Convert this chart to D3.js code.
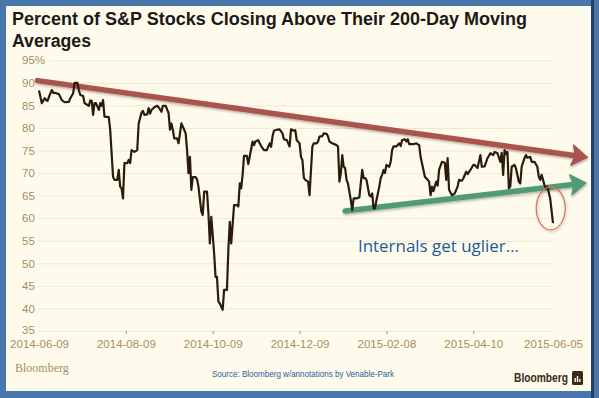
<!DOCTYPE html>
<html>
<head>
<meta charset="utf-8">
<script src="https://cdn.jsdelivr.net/npm/d3@7"></script>
<style>
  html, body { margin: 0; padding: 0; background: #4977ab; }
  #canvas { width: 599px; height: 398px; }
  text { font-family: "Liberation Sans", Arial, sans-serif; }
</style>
</head>
<body>
<div id="canvas"></div>
<script>
// daily readings, % of S&P 500 members above their 200-day average
var dates = [
  '2014-06-09','2014-06-11','2014-06-13','2014-06-14','2014-06-15','2014-06-17','2014-06-18','2014-06-19','2014-06-20','2014-06-23',
  '2014-06-25','2014-06-27','2014-06-30','2014-07-01','2014-07-03','2014-07-04','2014-07-06','2014-07-07','2014-07-08','2014-07-10',
  '2014-07-11','2014-07-13','2014-07-14','2014-07-15','2014-07-16','2014-07-17','2014-07-18','2014-07-19','2014-07-21','2014-07-22',
  '2014-07-23','2014-07-24','2014-07-25','2014-07-28','2014-07-29','2014-07-31','2014-08-01','2014-08-03','2014-08-04','2014-08-05',
  '2014-08-06','2014-08-07','2014-08-08','2014-08-10','2014-08-11','2014-08-12','2014-08-13','2014-08-15','2014-08-17','2014-08-18',
  '2014-08-20','2014-08-21','2014-08-22','2014-08-24','2014-08-25','2014-08-26','2014-08-27','2014-08-29','2014-08-31','2014-09-01',
  '2014-09-03','2014-09-04','2014-09-06','2014-09-08','2014-09-09','2014-09-10','2014-09-11','2014-09-12','2014-09-14','2014-09-15',
  '2014-09-16','2014-09-17','2014-09-19','2014-09-20','2014-09-21','2014-09-22','2014-09-23','2014-09-24','2014-09-25','2014-09-27',
  '2014-09-28','2014-09-29','2014-10-01','2014-10-02','2014-10-03','2014-10-05','2014-10-06','2014-10-07','2014-10-08','2014-10-10',
  '2014-10-11','2014-10-12','2014-10-13','2014-10-14','2014-10-16','2014-10-17','2014-10-19','2014-10-20','2014-10-21','2014-10-22',
  '2014-10-24','2014-10-26','2014-10-27','2014-10-28','2014-10-29','2014-10-30','2014-10-31','2014-11-02','2014-11-03','2014-11-06',
  '2014-11-07','2014-11-08','2014-11-10','2014-11-11','2014-11-12','2014-11-14','2014-11-16','2014-11-18','2014-11-19','2014-11-20',
  '2014-11-21','2014-11-23','2014-11-25','2014-11-27','2014-11-28','2014-11-30','2014-12-01','2014-12-02','2014-12-03','2014-12-05',
  '2014-12-06','2014-12-07','2014-12-09','2014-12-10','2014-12-11','2014-12-12','2014-12-13','2014-12-15','2014-12-16','2014-12-18',
  '2014-12-19','2014-12-21','2014-12-22','2014-12-23','2014-12-25','2014-12-26','2014-12-28','2014-12-29','2014-12-30','2015-01-01',
  '2015-01-04','2015-01-05','2015-01-06','2015-01-07','2015-01-08','2015-01-09','2015-01-10','2015-01-11','2015-01-12','2015-01-14',
  '2015-01-15','2015-01-16','2015-01-18','2015-01-20','2015-01-21','2015-01-22','2015-01-23','2015-01-24','2015-01-25','2015-01-27',
  '2015-01-28','2015-01-29','2015-01-30','2015-01-31','2015-02-01','2015-02-03','2015-02-04','2015-02-05','2015-02-06','2015-02-07',
  '2015-02-08','2015-02-10','2015-02-11','2015-02-12','2015-02-13','2015-02-15','2015-02-17','2015-02-18','2015-02-19','2015-02-21',
  '2015-02-22','2015-02-23','2015-02-24','2015-02-27','2015-03-01','2015-03-03','2015-03-04','2015-03-06','2015-03-07','2015-03-09',
  '2015-03-10','2015-03-11','2015-03-12','2015-03-13','2015-03-15','2015-03-16','2015-03-17','2015-03-19','2015-03-21','2015-03-22',
  '2015-03-23','2015-03-24','2015-03-26','2015-03-28','2015-03-30','2015-03-31','2015-04-02','2015-04-03','2015-04-05','2015-04-06',
  '2015-04-08','2015-04-10','2015-04-11','2015-04-13','2015-04-15','2015-04-16','2015-04-18','2015-04-20','2015-04-22','2015-04-24',
  '2015-04-25','2015-04-27','2015-04-29','2015-04-30','2015-05-01','2015-05-02','2015-05-03','2015-05-04','2015-05-05','2015-05-06',
  '2015-05-07','2015-05-09','2015-05-10','2015-05-12','2015-05-13','2015-05-14','2015-05-16','2015-05-17','2015-05-18','2015-05-20',
  '2015-05-21','2015-05-23','2015-05-25','2015-05-26','2015-05-27','2015-05-28','2015-05-30','2015-05-31','2015-06-01','2015-06-03',
  '2015-06-05'
];
var pctAbove = [
  88.3, 85.5, 86.6, 86.2, 86.0, 87.7, 88.4, 87.8, 87.8, 87.5,
  86.2, 85.7, 85.8, 86.6, 87.7, 90.0, 90.0, 88.4, 87.3, 87.1,
  85.5, 85.1, 84.9, 86.1, 86.0, 82.9, 85.5, 85.5, 84.0, 85.5,
  84.9, 86.2, 82.5, 82.4, 79.6, 69.2, 68.5, 68.5, 70.7, 67.0,
  66.6, 64.4, 72.2, 72.2, 72.9, 72.2, 75.1, 74.7, 75.1, 81.0,
  83.4, 83.8, 82.9, 83.0, 84.4, 83.2, 84.0, 84.6, 84.9, 84.6,
  83.6, 84.9, 84.9, 83.3, 79.6, 81.0, 79.6, 77.7, 77.7, 76.6,
  78.8, 81.0, 79.6, 78.8, 75.1, 70.0, 73.6, 66.3, 69.1, 69.1,
  68.6, 67.0, 61.5, 60.7, 65.9, 65.9, 61.1, 54.4, 60.3, 52.2,
  47.0, 47.0, 41.5, 41.1, 39.7, 44.1, 44.1, 53.0, 59.2, 54.4,
  62.9, 62.9, 62.6, 67.7, 66.6, 69.6, 73.8, 73.8, 72.0, 77.0,
  76.2, 77.0, 77.3, 76.6, 76.0, 75.1, 75.1, 76.6, 75.8, 78.1,
  79.4, 79.6, 79.7, 78.8, 77.5, 77.3, 76.6, 75.9, 79.7, 79.4,
  79.5, 77.3, 76.6, 73.6, 72.9, 69.0, 68.5, 68.1, 65.1, 75.9,
  76.6, 76.6, 77.0, 78.1, 78.2, 78.8, 78.7, 78.1, 77.0, 76.6,
  76.2, 75.9, 68.1, 70.0, 74.0, 71.4, 71.1, 68.5, 67.7, 64.0,
  61.8, 64.4, 64.4, 64.6, 67.7, 70.7, 68.9, 68.9, 68.5, 65.1,
  64.8, 65.5, 62.2, 62.2, 64.0, 67.0, 68.9, 69.6, 70.7, 70.0,
  71.8, 71.4, 72.5, 75.1, 75.9, 75.9, 76.6, 76.0, 77.3, 77.5,
  77.0, 77.5, 76.4, 76.4, 76.6, 76.2, 73.6, 70.7, 69.2, 68.5,
  68.1, 65.1, 67.0, 66.0, 68.1, 67.2, 70.7, 72.5, 72.3, 68.5,
  73.3, 66.3, 65.1, 65.5, 67.0, 68.5, 68.3, 68.8, 70.3, 69.8,
  70.7, 71.8, 71.8, 71.1, 74.0, 71.4, 71.5, 73.3, 74.4, 74.0,
  74.7, 74.4, 72.5, 74.5, 69.6, 75.1, 74.2, 74.7, 66.6, 67.0,
  71.4, 71.8, 71.0, 68.1, 67.7, 71.4, 73.3, 74.0, 73.4, 73.6,
  72.5, 72.5, 71.4, 69.2, 68.5, 69.6, 67.4, 66.6, 67.0, 64.4,
  58.9
];

var yTicks = [35, 40, 45, 50, 55, 60, 65, 70, 75, 80, 85, 90, 95];
var xTickLabels = ['2014-06-09', '2014-08-09', '2014-10-09', '2014-12-09', '2015-02-08', '2015-04-10', '2015-06-05'];

// hand drawn annotations (date, value)
var upperTrendDates = ['2014-06-08', '2015-06-29'];
var upperTrendValues = [90.5, 73.5];
var lowerTrendDates = ['2015-01-10', '2015-06-28'];
var lowerTrendValues = [61.6, 67.8];
var circleDate = '2015-06-03';
var circleValue = 62.2;
var noteDate = '2015-01-19';
var noteValue = 52.4;
var noteText = 'Internals get uglier\u2026';

const w = 599;
const h = 398;
const parse = d3.timeParse('%Y-%m-%d');
const fmt = d3.timeFormat('%Y-%m-%d');

const x = d3.scaleTime()
  .domain([parse(xTickLabels[0]), parse(xTickLabels[xTickLabels.length - 1])])
  .range([39, 553]);
const y = d3.scaleLinear().domain([35, 95]).range([331, 60.3]);

const svg = d3.select('#canvas')
  .append('svg')
  .attr('width', w)
  .attr('height', h);

const defs = svg.append('defs');
defs.append('filter').attr('id', 'shadow')
  .attr('x', '-10%').attr('y', '-50%').attr('width', '120%').attr('height', '200%')
  .append('feDropShadow')
  .attr('dx', 0.5).attr('dy', 1.5).attr('stdDeviation', 1.2)
  .attr('flood-color', '#000').attr('flood-opacity', 0.3);

// frame
svg.append('rect').attr('width', w).attr('height', h).attr('fill', '#4977ab');
svg.append('rect').attr('x', 6).attr('y', 6).attr('width', 585).attr('height', 385).attr('fill', '#fefbec');
svg.append('rect').attr('x', 591).attr('y', 0).attr('width', 3).attr('height', h).attr('fill', '#24406a');

// title
svg.append('text').attr('x', 12).attr('y', 25)
  .attr('font-size', 18).attr('font-weight', 'bold').attr('fill', '#1c1a16')
  .attr('textLength', 515).attr('lengthAdjust', 'spacingAndGlyphs')
  .text('Percent of S&P Stocks Closing Above Their 200-Day Moving');
svg.append('text').attr('x', 12).attr('y', 47)
  .attr('font-size', 18).attr('font-weight', 'bold').attr('fill', '#1c1a16')
  .attr('textLength', 79).attr('lengthAdjust', 'spacingAndGlyphs')
  .text('Averages');

// y axis + gridlines
const yAxis = d3.axisLeft(y)
  .tickValues(yTicks)
  .tickSize(-(553 - 38))
  .tickFormat(d => d === 95 ? '95%' : d);

svg.append('g')
  .attr('transform', 'translate(38,0)')
  .call(yAxis)
  .call(g => g.select('.domain').remove())
  .call(g => g.selectAll('.tick line').attr('stroke', '#efe8d3').attr('x1', d => d === 95 ? 11 : 0))
  .call(g => g.selectAll('.tick text')
    .attr('x', -16).attr('text-anchor', 'start')
    .attr('y', d => d === 35 ? -1.5 : 0)
    .attr('fill', '#a68f62').attr('font-size', 11.5)
    .style('font-family', '"Liberation Sans", Arial, sans-serif'));

// x axis
const xAxis = d3.axisBottom(x)
  .tickValues(xTickLabels.map(parse))
  .tickSize(3)
  .tickPadding(6)
  .tickFormat(fmt);

svg.append('g')
  .attr('transform', 'translate(0,331)')
  .call(xAxis)
  .call(g => g.select('.domain').remove())
  .call(g => g.selectAll('.tick line').attr('stroke', '#a68f62')
    .attr('opacity', (d, i) => (i === 0 || i === xTickLabels.length - 1) ? 0 : 1))
  .call(g => g.selectAll('.tick text')
    .attr('fill', '#a68f62').attr('font-size', 11.5)
    .style('font-family', '"Liberation Sans", Arial, sans-serif'));

// trend arrows
var drawArrow = function(ds, vs, color) {
  var p0 = [x(parse(ds[0])), y(vs[0])];
  var p1 = [x(parse(ds[1])), y(vs[1])];
  var dx = p1[0] - p0[0], dy = p1[1] - p0[1];
  var len = Math.sqrt(dx * dx + dy * dy);
  var ux = dx / len, uy = dy / len;
  var headLen = 15, headHalf = 10;
  var bx = p1[0] - ux * headLen, by = p1[1] - uy * headLen;
  var g = svg.append('g').attr('filter', 'url(#shadow)');
  g.append('line')
    .attr('x1', p0[0]).attr('y1', p0[1])
    .attr('x2', bx + ux * 2).attr('y2', by + uy * 2)
    .attr('stroke', color).attr('stroke-width', 5.5).attr('stroke-linecap', 'round');
  g.append('polygon')
    .attr('points', [
      [p1[0], p1[1]],
      [bx - uy * headHalf, by + ux * headHalf],
      [bx + ux * 3, by + uy * 3],
      [bx + uy * headHalf, by - ux * headHalf]
    ].map(p => p.join(',')).join(' '))
    .attr('fill', color).attr('stroke', color).attr('stroke-width', 1.5)
    .attr('stroke-linejoin', 'round');
};

drawArrow(upperTrendDates, upperTrendValues, '#a9544e');
drawArrow(lowerTrendDates, lowerTrendValues, '#4f9b75');

// the series
const line = d3.line()
  .x(d => x(d[0]))
  .y(d => y(d[1]));

svg.append('path')
  .datum(dates.map((d, i) => [parse(d), pctAbove[i]]))
  .attr('d', line)
  .attr('fill', 'none')
  .attr('stroke', '#2a1b0c')
  .attr('stroke-width', 2.2)
  .attr('stroke-linejoin', 'round');

// circle around the latest drop
svg.append('ellipse')
  .attr('cx', x(parse(circleDate)) + 0.6)
  .attr('cy', y(circleValue))
  .attr('rx', 14.5).attr('ry', 21.5)
  .attr('fill', 'none')
  .attr('stroke', '#e0705f').attr('stroke-width', 1.2)
  .attr('filter', 'url(#shadow)');

svg.append('text')
  .attr('x', x(parse(noteDate)))
  .attr('y', y(noteValue))
  .attr('font-size', 17)
  .attr('fill', '#1d5a97')
  .attr('textLength', 161).attr('lengthAdjust', 'spacingAndGlyphs')
  .style('font-family', '"Open Sans", "DejaVu Sans", sans-serif')
  .text(noteText);

// footer
svg.append('text').attr('x', 15).attr('y', 372)
  .attr('font-size', 12).attr('fill', '#a68f62')
  .style('font-family', '"Liberation Serif", "DejaVu Serif", serif')
  .text('Bloomberg');

svg.append('text').attr('x', 212).attr('y', 377)
  .attr('font-size', 9).attr('fill', '#2b5e98')
  .attr('textLength', 182).attr('lengthAdjust', 'spacingAndGlyphs')
  .text('Source: Bloomberg w/annotations by Venable-Park');

svg.append('text').attr('x', 514).attr('y', 382)
  .attr('font-size', 13.5).attr('font-weight', 'bold').attr('fill', '#3a2818')
  .attr('textLength', 54).attr('lengthAdjust', 'spacingAndGlyphs')
  .text('Bloomberg');

var logo = svg.append('g').attr('transform', 'translate(572,371)');
logo.append('rect').attr('width', 11).attr('height', 14).attr('rx', 1.5).attr('fill', '#3a2818');
logo.selectAll('rect.bar')
  .data([4, 6, 3])
  .enter()
  .append('rect')
  .attr('class', 'bar')
  .attr('x', (d, i) => 2.5 + i * 2.3)
  .attr('y', d => 11 - d)
  .attr('width', 1.4)
  .attr('height', d => d)
  .attr('fill', '#fefbec');
</script>
</body>
</html>
